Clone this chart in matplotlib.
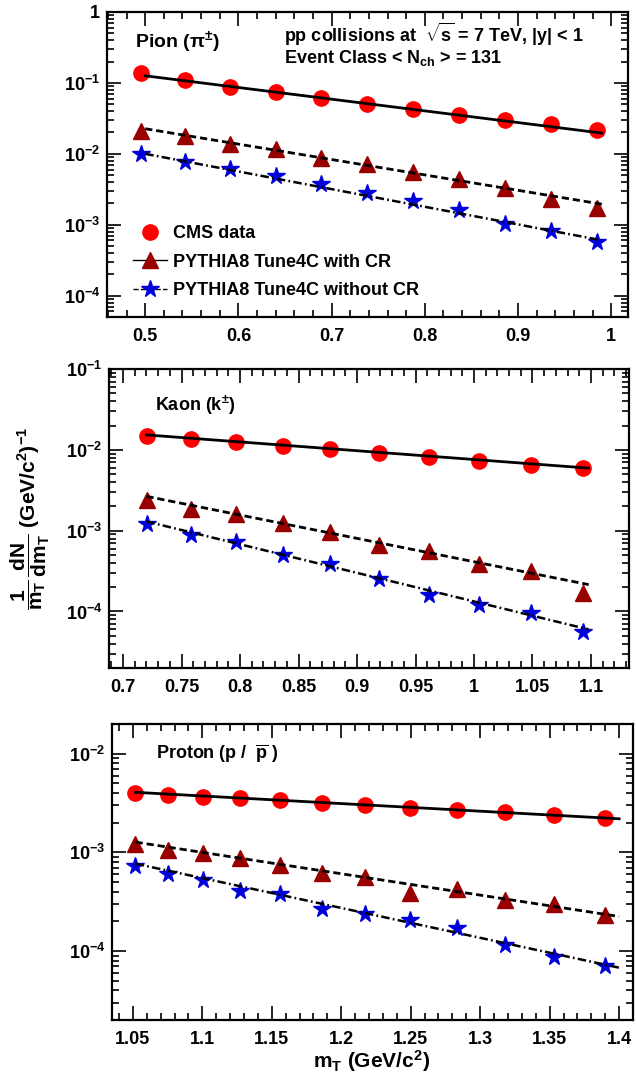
import matplotlib
matplotlib.use('Agg')
import matplotlib.pyplot as plt
from matplotlib.ticker import MultipleLocator, FuncFormatter, LogLocator, NullFormatter
from matplotlib.lines import Line2D
import numpy as np

plt.rcParams['font.family'] = ['Liberation Sans', 'DejaVu Sans']
plt.rcParams['font.weight'] = 'bold'
plt.rcParams['mathtext.fontset'] = 'custom'
plt.rcParams['mathtext.rm'] = 'Liberation Sans:bold'
plt.rcParams['mathtext.it'] = 'Liberation Sans:bold'
plt.rcParams['mathtext.bf'] = 'Liberation Sans:bold'
plt.rcParams['mathtext.sf'] = 'Liberation Sans:bold'

# ---------------- data ----------------
# Pion
pion_mt = [0.495, 0.543, 0.5915, 0.640, 0.689, 0.738, 0.787, 0.8366, 0.886, 0.9355, 0.985]
pion_cms = [0.138, 0.110, 0.0880, 0.0745, 0.0607, 0.0499, 0.0424, 0.0352, 0.0299, 0.0260, 0.0220]
pion_cr = [0.0212, 0.0180, 0.0139, 0.0118, 0.00877, 0.00721, 0.00556, 0.00442, 0.00330, 0.00230, 0.00171]
pion_nocr = [0.0100, 0.0077, 0.00613, 0.00487, 0.00375, 0.00280, 0.00216, 0.00161, 0.00102, 0.00081, 0.000565]
pion_fit_x = [0.50, 0.99]
pion_fit_cms = [0.126, 0.0196]
pion_fit_cr = [0.0226, 0.00195]
pion_fit_nocr = [0.0100, 0.000603]

# Kaon
kaon_mt = [0.7207, 0.7578, 0.7964, 0.8364, 0.8771, 0.9189, 0.9615, 1.0047, 1.0485, 1.0929]
kaon_cms = [0.0149, 0.01355, 0.01244, 0.0113, 0.0102, 0.0091, 0.0081, 0.00731, 0.00647, 0.0060]
kaon_cr = [0.00242, 0.00185, 0.00162, 0.00125, 0.000964, 0.000672, 0.000561, 0.000388, 0.000315, 0.000170]
kaon_nocr = [0.00122, 0.000893, 0.000718, 0.000506, 0.000388, 0.000253, 0.000162, 0.000119, 0.0000945, 0.0000555]
kaon_fit_x = [0.72, 1.098]
kaon_fit_cms = [0.0153, 0.00594]
kaon_fit_cr = [0.00266, 0.000215]
kaon_fit_nocr = [0.0013, 0.00006]

# Proton
prot_mt = [1.0517, 1.0752, 1.1005, 1.1274, 1.1559, 1.1858, 1.2170, 1.2494, 1.2830, 1.3176, 1.3531, 1.3896]
prot_cms = [0.00403, 0.00384, 0.00364, 0.00356, 0.00342, 0.00316, 0.00299, 0.00284, 0.00271, 0.00254, 0.00237, 0.00224]
prot_cr = [0.00121, 0.00106, 0.000992, 0.000883, 0.000738, 0.000617, 0.000562, 0.000387, 0.000422, 0.000327, 0.000297, 0.000230]
prot_nocr = [0.000726, 0.000598, 0.00052, 0.000405, 0.000375, 0.000268, 0.000239, 0.000205, 0.000171, 0.000114, 0.0000869, 0.0000705]
prot_fit_x = [1.052, 1.40]
prot_fit_cms = [0.00406, 0.00219]
prot_fit_cr = [0.00127, 0.000224]
prot_fit_nocr = [0.000767, 0.0000678]

legend_labels = ['CMS data', 'PYTHIA8 Tune4C with CR', 'PYTHIA8 Tune4C without CR']

# ---------------- styling ----------------
RED = '#ff0000'
DRED = '#990000'
BLUE = '#0000dd'
W, H = 636, 1080

fig = plt.figure(figsize=(W / 100, H / 100), dpi=100)


def make_axes(l, r, t, b):
    return fig.add_axes([l / W, 1 - b / H, (r - l) / W, (b - t) / H])


def fmt_y(v, pos):
    e = int(round(np.log10(v)))
    if e == 0:
        return '1'
    return r'$10^{%d}$' % e


def style(ax, xlim, ylim, xmaj, xmin):
    ax.set_yscale('log')
    ax.set_xlim(*xlim)
    ax.set_ylim(*ylim)
    ax.xaxis.set_major_locator(MultipleLocator(xmaj))
    ax.xaxis.set_minor_locator(MultipleLocator(xmin))
    ax.xaxis.set_major_formatter(FuncFormatter(lambda v, p: '%g' % round(v, 4)))
    ax.yaxis.set_major_locator(LogLocator(base=10, numticks=20))
    ax.yaxis.set_minor_locator(LogLocator(base=10, subs=np.arange(2, 10), numticks=20))
    ax.yaxis.set_major_formatter(FuncFormatter(fmt_y))
    ax.yaxis.set_minor_formatter(NullFormatter())
    ax.tick_params(which='both', direction='in', top=True, right=True, width=1.2,
                   labelsize=13)
    ax.tick_params(which='major', length=10)
    ax.tick_params(which='minor', length=5)
    ax.tick_params(axis='x', pad=8)
    ax.tick_params(axis='y', pad=5)
    for s in ax.spines.values():
        s.set_linewidth(1.6)


def draw(ax, mt, cms, cr, nocr, fx, fcms, fcr, fnocr):
    ax.plot(fx, fcms, color='black', lw=2.0, ls='-', zorder=3)
    ax.plot(fx, fcr, color='black', lw=2.0, dashes=(2.6, 1.4), zorder=3)
    ax.plot(fx, fnocr, color='black', lw=1.8, dashes=(3.4, 1.3, 0.7, 1.3), zorder=3)
    ax.plot(mt, cms, 'o', color=RED, ms=11, mec=RED, zorder=2)
    ax.plot(mt, cr, '^', color=DRED, ms=11, mec=DRED, zorder=2)
    ax.plot(mt, nocr, '*', color=BLUE, ms=13, mec=BLUE, zorder=2)


# Top: pion
ax1 = make_axes(107, 628, 12, 317)
style(ax1, (0.459, 1.018), (5e-5, 1), 0.1, 0.02)
draw(ax1, pion_mt, pion_cms, pion_cr, pion_nocr, pion_fit_x, pion_fit_cms, pion_fit_cr, pion_fit_nocr)
ax1.text(0.054, 0.90, r'Pion ($\pi^{\pm}$)', transform=ax1.transAxes, fontsize=14,
         va='center', ha='left')
ax1.text(0.34, 0.928, r'pp collisions at  $\sqrt{s}$ = 7 TeV, |y| < 1', transform=ax1.transAxes,
         fontsize=13, va='center', ha='left')
ax1.text(0.34, 0.850, r'Event Class < N$_{ch}$ > = 131', transform=ax1.transAxes,
         fontsize=13, va='center', ha='left')
handles = [
    Line2D([], [], marker='o', color=RED, ms=11, ls='none'),
    Line2D([], [], marker='^', color='black', mfc=DRED, mec=DRED, ms=11, lw=1.0, ls='-'),
    Line2D([], [], marker='*', color='black', mfc=BLUE, mec=BLUE, ms=13, lw=1.0, ls='--'),
]
ax1.legend(handles, legend_labels, loc='upper left', bbox_to_anchor=(0.05, 0.30),
           frameon=False, fontsize=13, handlelength=1.9, handletextpad=0.3,
           labelspacing=0.62, borderaxespad=0, borderpad=0)

# Middle: kaon
ax2 = make_axes(109, 629, 369, 668)
style(ax2, (0.688, 1.1325), (2e-5, 1e-1), 0.05, 0.01)
draw(ax2, kaon_mt, kaon_cms, kaon_cr, kaon_nocr, kaon_fit_x, kaon_fit_cms, kaon_fit_cr, kaon_fit_nocr)
ax2.text(0.088, 0.88, r'Kaon (k$^{\pm}$)', transform=ax2.transAxes, fontsize=13,
         va='center', ha='left')

# Bottom: proton
ax3 = make_axes(112, 633, 724, 1020)
style(ax3, (1.035, 1.41), (2e-5, 2e-2), 0.05, 0.01)
draw(ax3, prot_mt, prot_cms, prot_cr, prot_nocr, prot_fit_x, prot_fit_cms, prot_fit_cr, prot_fit_nocr)
ax3.text(0.084, 0.90, r'Proton (p /  $\overline{\mathrm{p}}$ )', transform=ax3.transAxes, fontsize=13,
         va='center', ha='left')

# Axis titles
fig.text(30 / W, 1 - 518 / H, r'$\dfrac{1}{m_{T}}\,\dfrac{dN}{dm_{T}}$ (GeV/c$^{2}$)$^{-1}$',
         rotation=90, ha='center', va='center', fontsize=15)
fig.text(372 / W, 1 - 1061 / H, r'm$_{T}$ (GeV/c$^{2}$)', ha='center', va='center', fontsize=15)

fig.savefig('out.png', dpi=100)
